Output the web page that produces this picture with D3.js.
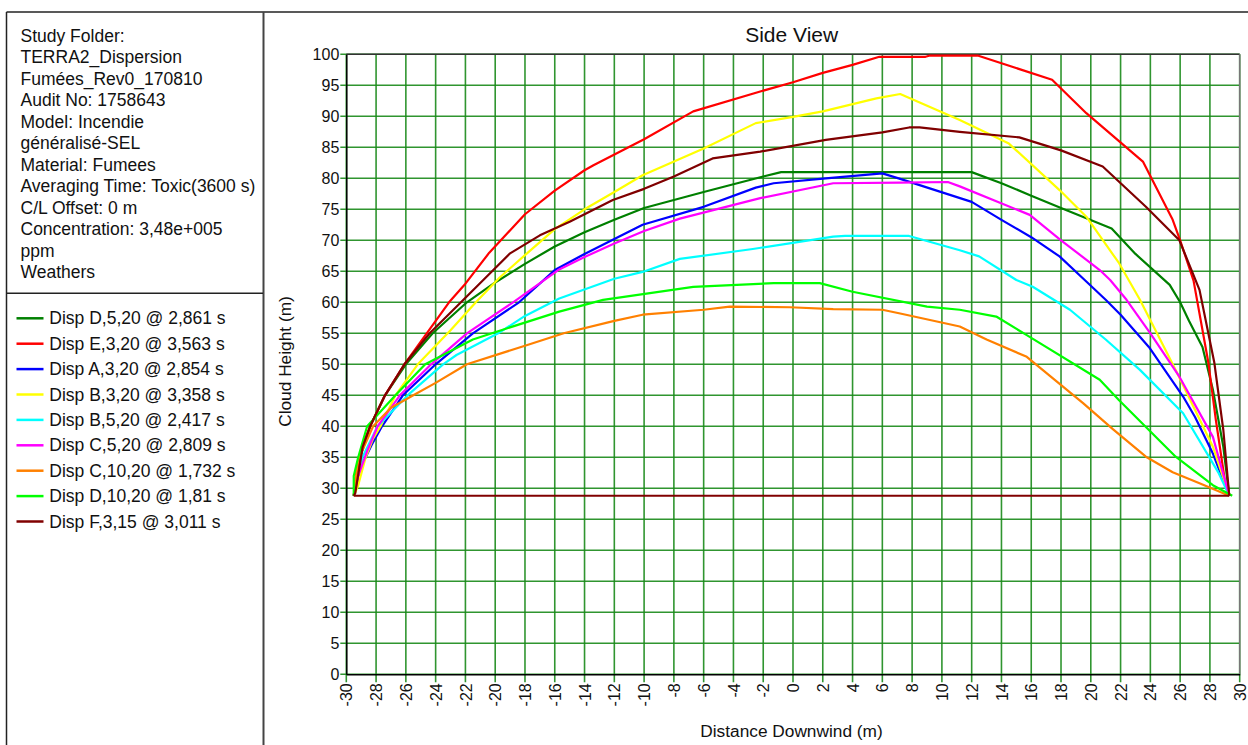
<!DOCTYPE html>
<html>
<head>
<meta charset="utf-8">
<script src="https://d3js.org/d3.v7.min.js"></script>
<style>
  body { margin: 0; background: #fff; }
  text { font-family: "Liberation Sans", Arial, sans-serif; fill: #111; }
</style>
</head>
<body>
<svg id="chart" width="1248" height="745"></svg>
<script>
// info panel text
const infoLines = ["Study Folder:", "TERRA2_Dispersion", "Fumées_Rev0_170810", "Audit No: 1758643",
  "Model: Incendie", "généralisé-SEL", "Material: Fumees", "Averaging Time: Toxic(3600 s)",
  "C/L Offset: 0 m", "Concentration: 3,48e+005", "ppm", "Weathers"];

const seriesNames = ["Disp D,5,20 @ 2,861 s", "Disp E,3,20 @ 3,563 s", "Disp A,3,20 @ 2,854 s",
  "Disp B,3,20 @ 3,358 s", "Disp B,5,20 @ 2,417 s", "Disp C,5,20 @ 2,809 s",
  "Disp C,10,20 @ 1,732 s", "Disp D,10,20 @ 1,81 s", "Disp F,3,15 @ 3,011 s"];
const seriesColors = ["#008000", "#ff0000", "#0000ff", "#ffff00", "#00ffff", "#ff00ff", "#ff8000", "#00ff00", "#800000"];

// [distance downwind (m), cloud height (m)]
const dispD5 = [[-29.5,28.8],[-29.3,32],[-29,35.5],[-28.4,40],[-27.4,45],[-26,50],[-24.2,55],[-21.9,60],[-20,63.2],[-18,66.2],[-16,69],[-14,71.3],[-12,73.3],[-10,75.2],[-6,77.8],[-2,80.3],[-0.8,81],[12,81],[14,79.2],[16,77.2],[18,75.2],[21.4,71.9],[23,67.8],[25.3,62.8],[26,60],[26.6,57],[27.5,52.8],[28.2,45.9],[28.9,36.7],[29.3,28.8]];
const dispE3 = [[-29.5,28.8],[-29.3,33],[-28.9,37],[-28.4,40],[-27.4,45],[-26.1,50],[-24.6,55],[-23.1,60],[-22,63],[-20.4,68],[-18,74.2],[-16,78],[-14,81.3],[-13.4,82.1],[-10,86.3],[-6.7,90.8],[-2.2,94],[0,95.5],[2,97],[4,98.3],[5.8,99.6],[8.9,99.6],[9.2,99.8],[12.4,99.8],[17.4,95.9],[19.7,90.5],[23.5,82.7],[25.5,73.3],[26,70],[26.9,63.5],[27.9,50.2],[28.4,41],[29,31.3],[29.3,28.8]];
const dispA3 = [[-29.5,28.8],[-29.1,33],[-28.3,37],[-27.6,40],[-26.2,45],[-24,50],[-21.5,55],[-18.4,60],[-16,65.2],[-14,67.8],[-12,70.2],[-10.1,72.5],[-6,75.4],[-2.5,78.5],[-1.3,79.2],[2.2,80],[6,80.8],[7.2,79.9],[12,76.2],[14,73.3],[16,70.5],[17.9,67.4],[19.5,63.8],[21,60.4],[22,58],[23.9,52.8],[26.2,44.8],[27,41.5],[28.2,35.6],[29.3,28.8]];
const dispB3 = [[-29.5,28.8],[-29.2,30.5],[-28.7,35],[-28.2,38],[-27.7,40],[-26.7,45],[-25.2,50],[-23,55.5],[-21.3,60],[-19.7,64],[-18,67.6],[-16,71.8],[-14,75],[-12,77.8],[-10.1,80.5],[-6,84.8],[-2.5,88.9],[0,89.9],[2,90.8],[5.6,92.9],[7.2,93.6],[11.2,89.4],[14.5,85.6],[17.9,78.1],[19.7,73.8],[21.9,66.3],[23.3,60.4],[25.7,49.1],[28.2,36.7],[29.3,28.8]];
const dispB5 = [[-29.5,28.8],[-29.4,30.3],[-28.9,35.1],[-27.9,40],[-25.7,45.4],[-23.5,50],[-22.6,51.5],[-19.8,55],[-18,57.8],[-15.7,60.6],[-12,63.8],[-10.1,64.9],[-7.6,67],[-2.7,68.6],[2.7,70.6],[3.5,70.7],[7.8,70.7],[11.2,68.4],[12.5,67.4],[15,63.6],[16.1,62.5],[18.6,58.8],[21,54],[23.3,49.1],[26.2,42.1],[28.6,32.4],[29.3,28.8]];
const dispC5 = [[-29.5,28.8],[-29.2,32],[-28.6,36],[-27.9,40],[-26.4,45],[-24.3,50],[-21.9,55],[-18.8,60],[-15.7,65.3],[-14,67.3],[-12,69.5],[-10,71.5],[-7.6,73.5],[-2.2,76.8],[2.7,79.2],[7.2,79.3],[10.4,79.4],[11.2,78.7],[15.9,74.1],[18,70],[20.6,65.2],[21.3,63.6],[22.4,60.4],[24,55],[25.95,48],[28.2,38.3],[29.3,28.8]];
const dispC10 = [[-29.5,28.8],[-29.4,31],[-29.2,34.6],[-28.2,40],[-27,43],[-25.5,45],[-24,47],[-21.9,50],[-18,53],[-15.4,55],[-12,57],[-10.1,58],[-6,58.8],[-4.25,59.3],[-0.2,59.2],[2.7,58.9],[6,58.8],[7.2,58.2],[11.2,56.1],[13,54],[15.7,51.2],[19.5,43.7],[21.5,39.5],[23.7,35.1],[25.5,32.6],[27.3,30.8],[29.3,28.8]];
const dispD10 = [[-29.5,28.8],[-29.5,32],[-29.2,35],[-28.6,40],[-26.7,45],[-24.7,50],[-21.5,54],[-19.6,55.5],[-15.7,58.5],[-12.75,60.4],[-6.7,62.5],[-1.3,63.1],[1.8,63.1],[4,61.7],[9,59.3],[11.2,58.8],[13.65,57.7],[15.7,54.7],[20.6,47.5],[21.9,44.2],[25.7,35.1],[28.2,30.5],[29.5,28.8]];
const dispF3 = [[-29.5,28.8],[-29.4,29.2],[-28.9,36.7],[-28.4,40],[-27.4,45],[-26.1,50],[-24.4,55],[-22.3,60],[-20.8,63.6],[-19,67.9],[-17,70.8],[-15,73],[-12.1,76.5],[-10,78.3],[-8,80.3],[-5.4,83.2],[-2.2,84.3],[2.2,86.2],[6,87.4],[7.8,88.2],[8.5,88.2],[11.2,87.5],[15.2,86.6],[18,84.5],[20.8,81.9],[23.7,75.4],[25.95,70],[27.3,62],[28.3,50.2],[28.9,39.4],[29.3,28.8]];
// cloud base line
const baseX = [-29.5, 29.3];
const baseY = 28.8;

const seriesData = [dispD5, dispE3, dispA3, dispB3, dispB5, dispC5, dispC10, dispD10, dispF3];

const xTicks = d3.range(-30, 31, 2);
const yTicks = d3.range(0, 101, 5);

const svg = d3.select("#chart");

const x = d3.scaleLinear().domain([-30, 30]).range([346.3, 1239.7]);
const y = d3.scaleLinear().domain([0, 100]).range([674.3, 54.3]);

// --- left panel frame
svg.append("line").attr("x1", 6.5).attr("x2", 1248).attr("y1", 12).attr("y2", 12)
  .attr("stroke", "#222").attr("stroke-width", 1.5);
svg.append("line").attr("x1", 6.5).attr("x2", 6.5).attr("y1", 12).attr("y2", 745)
  .attr("stroke", "#222").attr("stroke-width", 1.5);
svg.append("line").attr("x1", 263.5).attr("x2", 263.5).attr("y1", 12).attr("y2", 745)
  .attr("stroke", "#444").attr("stroke-width", 2);
svg.append("line").attr("x1", 6.5).attr("x2", 263).attr("y1", 293.3).attr("y2", 293.3)
  .attr("stroke", "#222").attr("stroke-width", 1.5);

svg.append("g").selectAll("text")
  .data(infoLines)
  .join("text")
    .attr("x", 20.5)
    .attr("y", (d, i) => 41.7 + i * 21.5)
    .attr("font-size", 17.5)
    .text(d => d);

const legend = svg.append("g").selectAll("g")
  .data(seriesNames)
  .join("g")
    .attr("transform", (d, i) => `translate(0,${318.3 + i * 25.4})`);
legend.append("line")
  .attr("x1", 16.5).attr("x2", 43.5)
  .attr("stroke", (d, i) => seriesColors[i])
  .attr("stroke-width", 2.5);
legend.append("text")
  .attr("x", 49.3)
  .attr("y", 6)
  .attr("font-size", 17.5)
  .text(d => d);

// --- grid
const grid = svg.append("g").attr("stroke", "#1a8a1a").attr("stroke-width", 1.6).attr("stroke-opacity", 0.9);
grid.selectAll(".vx")
  .data(xTicks)
  .join("line")
    .attr("x1", d => x(d)).attr("x2", d => x(d))
    .attr("y1", y(100)).attr("y2", y(0) + 8);
grid.selectAll(".hy")
  .data(yTicks)
  .join("line")
    .attr("x1", x(-30) - 6).attr("x2", x(30))
    .attr("y1", d => y(d)).attr("y2", d => y(d));

// plot frame
svg.append("line").attr("x1", x(-30)).attr("x2", x(30)).attr("y1", y(100)).attr("y2", y(100))
  .attr("stroke", "#333").attr("stroke-width", 1.5);
svg.append("line").attr("x1", x(30)).attr("x2", x(30)).attr("y1", y(100)).attr("y2", y(0))
  .attr("stroke", "#777").attr("stroke-width", 1.5);

// axes
const yAxis = svg.append("g")
  .attr("transform", `translate(${x(-30)},0)`)
  .call(d3.axisLeft(y).tickValues(yTicks).tickSize(0).tickPadding(7));
yAxis.select(".domain").attr("stroke", "#000").attr("stroke-width", 1.5);
yAxis.selectAll("text").attr("font-size", 16).attr("fill", "#111")
  .attr("font-family", "Liberation Sans, Arial, sans-serif");

const xAxis = svg.append("g")
  .attr("transform", `translate(0,${y(0)})`)
  .call(d3.axisBottom(x).tickValues(xTicks).tickSize(0).tickFormat(d => String(d)));
xAxis.select(".domain").attr("stroke", "#000").attr("stroke-width", 1.5);
xAxis.selectAll("text")
  .attr("font-size", 16).attr("fill", "#111")
  .attr("font-family", "Liberation Sans, Arial, sans-serif")
  .attr("text-anchor", "end")
  .attr("transform", "rotate(-90)")
  .attr("x", -9)
  .attr("y", 0)
  .attr("dy", "0.35em");

// titles
svg.append("text").attr("x", 791.7).attr("y", 41.5).attr("text-anchor", "middle")
  .attr("font-size", 21).text("Side View");
svg.append("text").attr("x", 791.5).attr("y", 736.5).attr("text-anchor", "middle")
  .attr("font-size", 17.3).text("Distance Downwind (m)");
svg.append("text").attr("transform", "translate(290.5,361.5) rotate(-90)").attr("text-anchor", "middle")
  .attr("font-size", 17.3).text("Cloud Height (m)");

// --- series
const line = d3.line().x(d => x(d[0])).y(d => y(d[1]));

const clip = svg.append("defs").append("clipPath").attr("id", "plotclip");
clip.append("rect").attr("x", x(-30)).attr("y", y(100) - 2).attr("width", x(30) - x(-30) + 4).attr("height", y(0) - y(100) + 2);

const curves = svg.append("g").attr("clip-path", "url(#plotclip)");
curves.selectAll("path")
  .data(seriesData)
  .join("path")
    .attr("d", line)
    .attr("fill", "none")
    .attr("stroke", (d, i) => seriesColors[i])
    .attr("stroke-width", 2.2)
    .attr("stroke-linejoin", "round");

curves.append("line")
  .attr("x1", x(baseX[0])).attr("x2", x(baseX[1]))
  .attr("y1", y(baseY)).attr("y2", y(baseY))
  .attr("stroke", "#800000").attr("stroke-width", 2.2);
</script>
</body>
</html>
